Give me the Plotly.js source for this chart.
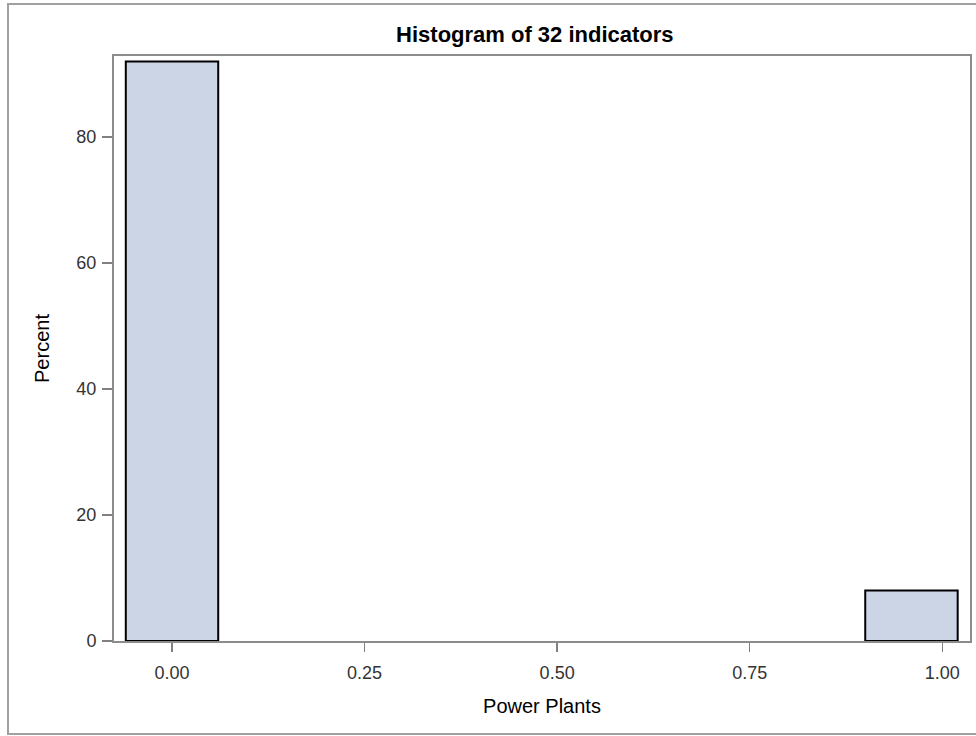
<!DOCTYPE html>
<html>
<head>
<meta charset="utf-8">
<script src="https://cdn.plot.ly/plotly-3.0.1.min.js"></script>
<style>
html,body{margin:0;padding:0;background:#fff;}
#chart{width:976px;height:736px;}
</style>
</head>
<body>
<div id="chart"></div>
<script>
// Histogram bins (midpoints) and percent of observations
const binMidpoints = [0.0, 0.96];
const percentValues = [92, 8];
const binWidth = 0.12;
const xTickValues = [0, 0.25, 0.5, 0.75, 1.0];
const xTickLabels = ["0.00", "0.25", "0.50", "0.75", "1.00"];
const yTickValues = [0, 20, 40, 60, 80];

const trace = {
  type: 'bar',
  x: binMidpoints,
  y: percentValues,
  width: binMidpoints.map(() => binWidth),
  marker: {color: '#cbd5e6', line: {color: '#000000', width: 2}},
  hoverinfo: 'x+y'
};

const layout = {
  width: 976, height: 736,
  margin: {l: 114, r: 6, t: 56, b: 95},
  paper_bgcolor: '#ffffff', plot_bgcolor: '#ffffff',
  showlegend: false,
  font: {family: 'Liberation Sans, Arial, sans-serif', size: 18, color: '#333333'},
  title: {text: '<b>Histogram of 32 indicators</b>', x: 0.548, xanchor: 'center', y: 0.954, yanchor: 'middle',
          font: {family: 'Liberation Sans, Arial, sans-serif', size: 22, color: '#000000'}},
  xaxis: {
    range: [-0.0753, 1.036],
    tickvals: xTickValues, ticktext: xTickLabels,
    ticks: 'outside', ticklen: 9, tickwidth: 1.5, tickcolor: '#808080',
    ticklabelstandoff: 5,
    showgrid: false, zeroline: false,
    showline: true, mirror: true, linecolor: '#8c8c8c', linewidth: 2,
    tickfont: {size: 18, color: '#333333'},
    title: {text: 'Power Plants', standoff: 17, font: {size: 20, color: '#000000'}}
  },
  yaxis: {
    range: [0, 92.86],
    tickvals: yTickValues,
    ticks: 'outside', ticklen: 10, tickwidth: 1.5, tickcolor: '#808080',
    ticklabelstandoff: 2,
    showgrid: false, zeroline: false,
    showline: true, mirror: true, linecolor: '#8c8c8c', linewidth: 2,
    tickfont: {size: 18, color: '#333333'},
    title: {text: 'Percent', standoff: 21, font: {size: 20, color: '#000000'}}
  },
  shapes: [{
    type: 'rect', xref: 'paper', yref: 'paper',
    x0: (8 - 114) / 856, x1: (990 - 114) / 856,
    y0: (641 - 734) / 585, y1: (641 - 4) / 585,
    line: {color: '#a0a0a0', width: 2}, fillcolor: 'rgba(0,0,0,0)', layer: 'below'
  }]
};

Plotly.newPlot('chart', [trace], layout, {displayModeBar: false, staticPlot: true});
</script>
</body>
</html>
